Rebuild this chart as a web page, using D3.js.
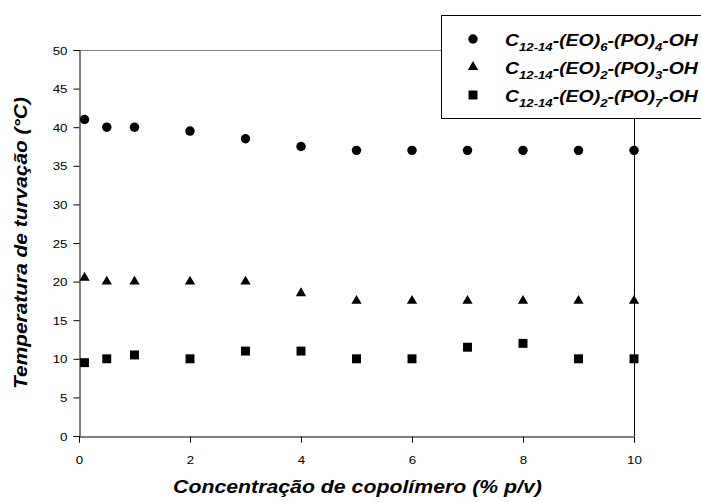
<!DOCTYPE html>
<html>
<head>
<meta charset="utf-8">
<script src="https://cdn.jsdelivr.net/npm/d3@7"></script>
<style>
    html, body { margin: 0; padding: 0; background: #fff; }
    svg { display: block; }
    text { font-family: "Liberation Sans", Arial, sans-serif; fill: #000; }
</style>
</head>
<body>
<div id="chart"></div>
<script>
var concentracao = [0.1, 0.5, 1, 2, 3, 4, 5, 6, 7, 8, 9, 10];
var serieEO6PO4 = [41, 40, 40, 39.5, 38.5, 37.5, 37, 37, 37, 37, 37, 37];
var serieEO2PO3 = [20.5, 20, 20, 20, 20, 18.5, 17.5, 17.5, 17.5, 17.5, 17.5, 17.5];
var serieEO2PO7 = [9.5, 10, 10.5, 10, 11, 11, 10, 10, 11.5, 12, 10, 10];
var xTicks = [0, 2, 4, 6, 8, 10];
var yTicks = [0, 5, 10, 15, 20, 25, 30, 35, 40, 45, 50];
var xTitle = "Concentração de copolímero (% p/v)";
var yTitle = "Temperatura de turvação (°C)";
// legend labels as [text, isSubscript] pieces
var legendLabels = [
    [["C", 0], ["12-14", 1], ["-(EO)", 0], ["6", 1], ["-(PO)", 0], ["4", 1], ["-OH", 0]],
    [["C", 0], ["12-14", 1], ["-(EO)", 0], ["2", 1], ["-(PO)", 0], ["3", 1], ["-OH", 0]],
    [["C", 0], ["12-14", 1], ["-(EO)", 0], ["2", 1], ["-(PO)", 0], ["7", 1], ["-OH", 0]]
];

var series = [
    { values: serieEO6PO4, symbol: d3.symbolCircle, size: 70 },
    { values: serieEO2PO3, symbol: d3.symbolTriangle, size: 46 },
    { values: serieEO2PO7, symbol: d3.symbolSquare, size: 80 }
];

var width = 701, height = 502;
var plot = { left: 79, right: 634, top: 50, bottom: 436 };

var svg = d3.select("#chart").append("svg")
    .attr("width", width)
    .attr("height", height);

var x = d3.scaleLinear().domain([0, 10]).range([plot.left, plot.right]);
var y = d3.scaleLinear().domain([0, 50]).range([plot.bottom, plot.top]);

// text in the picture is a bit wider than Liberation Sans, so stretch it
var stretch = 1.16;
var stretchText = (sel, target) => {
    sel.each(function() {
        var len = this.getComputedTextLength();
        var k = target ? target / len : stretch;
        d3.select(this).attr("transform", "scale(" + k + ",1)");
    });
};

// plot frame: top grey, right black
svg.append("line")
    .attr("x1", plot.left).attr("x2", plot.right)
    .attr("y1", plot.top + 0.5).attr("y2", plot.top + 0.5)
    .attr("stroke", "#808080");
svg.append("line")
    .attr("x1", plot.right + 0.5).attr("x2", plot.right + 0.5)
    .attr("y1", plot.top).attr("y2", plot.bottom)
    .attr("stroke", "#000");

// y axis
var yAxis = svg.append("g")
    .attr("transform", "translate(" + (plot.left + 0.5) + ",0)")
    .call(d3.axisLeft(y).tickValues(yTicks).tickSize(6).tickPadding(0).tickFormat(d3.format("d")));
yAxis.select(".domain").attr("stroke", "#000");
yAxis.selectAll(".tick line").attr("stroke", "#000");
yAxis.selectAll(".tick text").remove();
yAxis.selectAll(".tick").append("g")
    .attr("transform", "translate(-12,4)")
    .append("text")
    .attr("text-anchor", "end")
    .attr("font-size", 11.5)
    .text(d => d)
    .call(stretchText);

// x axis
var xAxis = svg.append("g")
    .attr("transform", "translate(0," + (plot.bottom + 0.5) + ")")
    .call(d3.axisBottom(x).tickValues(xTicks).tickSize(6).tickFormat(d3.format("d")));
xAxis.select(".domain").attr("stroke", "#000");
xAxis.selectAll(".tick line").attr("stroke", "#000");
xAxis.selectAll(".tick text").remove();
xAxis.selectAll(".tick").append("g")
    .attr("transform", "translate(0,27)")
    .append("text")
    .attr("text-anchor", "middle")
    .attr("font-size", 11.5)
    .text(d => d)
    .call(stretchText);

// axis titles
svg.append("g")
    .attr("transform", "translate(357.5,493)")
    .append("text")
    .attr("text-anchor", "middle")
    .attr("font-size", 18)
    .attr("font-weight", "bold")
    .attr("font-style", "italic")
    .text(xTitle)
    .call(stretchText, 369);

svg.append("g")
    .attr("transform", "translate(27,243) rotate(-90)")
    .append("text")
    .attr("text-anchor", "middle")
    .attr("font-size", 18)
    .attr("font-weight", "bold")
    .attr("font-style", "italic")
    .text(yTitle)
    .call(stretchText, 292);

// markers
series.forEach(s => {
    svg.append("g")
        .selectAll("path")
        .data(s.values)
        .join("path")
        .attr("transform", (d, i) => "translate(" + x(concentracao[i]) + "," + y(d) + ")")
        .attr("d", d3.symbol().type(s.symbol).size(s.size))
        .attr("fill", "#000");
});

// legend
var legend = svg.append("g");
legend.append("rect")
    .attr("x", 441.5).attr("y", 15.5)
    .attr("width", 262).attr("height", 103)
    .attr("fill", "#fff")
    .attr("stroke", "#000");

legendLabels.forEach((parts, i) => {
    var cy = 39 + i * 28;
    legend.append("path")
        .attr("transform", "translate(473," + cy + ")")
        .attr("d", d3.symbol().type(series[i].symbol).size(series[i].size))
        .attr("fill", "#000");
    var t = legend.append("g")
        .attr("transform", "translate(505," + (cy + 6.5) + ")")
        .append("text")
        .attr("font-size", 17)
        .attr("font-weight", "bold")
        .attr("font-style", "italic");
    var shift = 0;
    parts.forEach(p => {
        var dy = p[1] ? 5 - shift : -shift;
        shift += dy;
        t.append("tspan")
            .attr("dy", dy)
            .attr("font-size", p[1] ? 11.5 : 17)
            .text(p[0]);
    });
    t.call(stretchText, 193);
});
</script>
</body>
</html>
